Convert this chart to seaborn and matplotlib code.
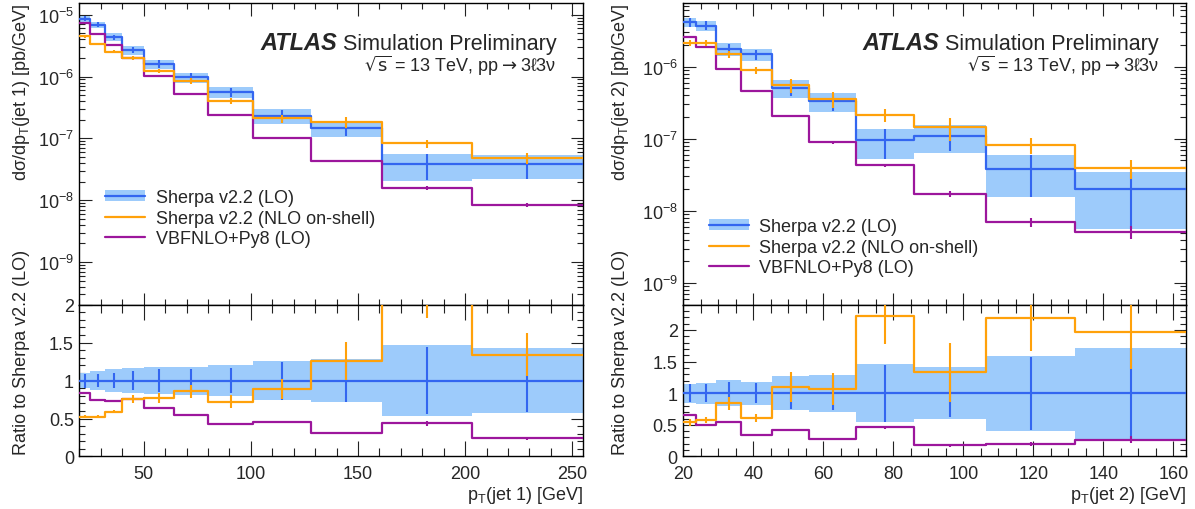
import numpy as np
import pandas as pd
import matplotlib
matplotlib.use("Agg")
import matplotlib.pyplot as plt
import seaborn as sns
from matplotlib.ticker import MultipleLocator, LogLocator, NullFormatter, FuncFormatter
from matplotlib.patches import Patch
from matplotlib.lines import Line2D

# ---------------- data: leading jet pT ----------------
edges_j1 = [20, 25, 32, 40, 50, 64, 80, 101, 128, 161, 203, 255]
lo_j1 = [8.61e-6, 6.89e-6, 4.35e-6, 2.70e-6, 1.60e-6, 9.75e-7, 5.64e-7, 2.33e-7, 1.49e-7, 3.84e-8, 3.80e-8]
lo_band_j1 = [0.10, 0.127, 0.147, 0.163, 0.178, 0.185, 0.207, 0.26, 0.285, 0.47, 0.43]
lo_err_j1 = [0.092, 0.088, 0.10, 0.12, 0.147, 0.158, 0.17, 0.25, 0.28, 0.44, 0.42]
nlo_j1 = [4.46e-6, 3.34e-6, 2.54e-6, 1.98e-6, 1.24e-6, 8.51e-7, 4.03e-7, 2.11e-7, 1.82e-7, 8.30e-8, 4.85e-8]
nlo_err_j1 = [0.04, 0.04, 0.04, 0.07, 0.085, 0.10, 0.12, 0.15, 0.20, 0.15, 0.21]
nlo_ratio_j1 = [0.525, 0.525, 0.59, 0.753, 0.766, 0.862, 0.722, 0.888, 1.256, 2.14, 1.343]
vbf_j1 = [7.33e-6, 4.85e-6, 3.18e-6, 1.98e-6, 1.03e-6, 5.24e-7, 2.39e-7, 1.03e-7, 4.29e-8, 1.60e-8, 8.30e-9]
vbf_err_j1 = [0.01, 0.01, 0.015, 0.015, 0.02, 0.02, 0.02, 0.03, 0.04, 0.08, 0.08]
vbf_ratio_j1 = [0.84, 0.744, 0.735, 0.753, 0.643, 0.543, 0.429, 0.46, 0.306, 0.438, 0.24]

# ---------------- data: subleading jet pT ----------------
edges_j2 = [20, 23.7, 29.4, 36.5, 45.3, 56, 69.3, 86, 106.5, 132, 163.6]
lo_j2 = [4.13e-6, 3.71e-6, 1.76e-6, 1.48e-6, 5.11e-7, 3.33e-7, 9.48e-8, 1.09e-7, 3.75e-8, 2.00e-8]
lo_band_j2 = [0.153, 0.166, 0.205, 0.185, 0.27, 0.295, 0.455, 0.41, 0.59, 0.72]
lo_err_j2 = [0.14, 0.145, 0.17, 0.158, 0.245, 0.27, 0.45, 0.38, 0.58, 0.72]
nlo_j2 = [2.15e-6, 2.15e-6, 1.48e-6, 8.99e-7, 5.56e-7, 3.56e-7, 2.13e-7, 1.45e-7, 8.17e-8, 3.95e-8]
nlo_err_j2 = [0.10, 0.09, 0.12, 0.11, 0.22, 0.24, 0.20, 0.35, 0.24, 0.30]
nlo_ratio_j2 = [0.542, 0.579, 0.842, 0.61, 1.095, 1.068, 2.226, 1.332, 2.19, 1.974]
vbf_j2 = [2.55e-6, 1.86e-6, 9.29e-7, 4.65e-7, 2.08e-7, 8.89e-8, 4.31e-8, 1.74e-8, 7.03e-9, 5.11e-9]
vbf_err_j2 = [0.02, 0.02, 0.02, 0.03, 0.03, 0.04, 0.05, 0.10, 0.15, 0.20]
vbf_ratio_j2 = [0.658, 0.505, 0.542, 0.332, 0.426, 0.279, 0.463, 0.174, 0.20, 0.268]

labels = ["Sherpa v2.2 (LO)", "Sherpa v2.2 (NLO on-shell)", "VBFNLO+Py8 (LO)"]
xlabels = ["p$_\\mathrm{T}$(jet 1) [GeV]", "p$_\\mathrm{T}$(jet 2) [GeV]"]
ylabels = ["d\u03c3/dp$_\\mathrm{T}$(jet 1) [pb/GeV]", "d\u03c3/dp$_\\mathrm{T}$(jet 2) [pb/GeV]"]
ratio_label = "Ratio to Sherpa v2.2 (LO)"

C_LO = "#3366f0"
C_BAND = "#9dcbfb"
C_NLO = "#ffa10a"
C_VBF = "#9c169c"

sns.set_style("ticks")
plt.rcParams["font.family"] = ["Liberation Sans", "DejaVu Sans"]
plt.rcParams["mathtext.fontset"] = "custom"
plt.rcParams["mathtext.rm"] = "Liberation Sans"
plt.rcParams["mathtext.it"] = "Liberation Sans:italic"
plt.rcParams["mathtext.bf"] = "Liberation Sans:bold"
plt.rcParams["axes.unicode_minus"] = True

fig = plt.figure(figsize=(11.95, 5.1), dpi=100)


def step(ax, edges, vals, color, lw=1.6, z=3):
    df = pd.DataFrame({"x": list(edges), "y": list(vals) + [vals[-1]]})
    sns.lineplot(data=df, x="x", y="y", ax=ax, color=color, lw=lw,
                 drawstyle="steps-post", estimator=None, sort=False,
                 errorbar=None, zorder=z)


def band(ax, edges, lo, hi):
    lo = list(lo) + [lo[-1]]
    hi = list(hi) + [hi[-1]]
    ax.fill_between(edges, lo, hi, step="post", color=C_BAND, lw=0, zorder=1)


def errs(ax, centers, vals, yerr, color, z=3):
    ax.errorbar(centers, vals, yerr=yerr, fmt="none", ecolor=color,
                elinewidth=1.5, capsize=0, zorder=z)


def style_axes(ax, bottom=False):
    for s in ax.spines.values():
        s.set_linewidth(1.0)
        s.set_color("black")
    ax.tick_params(which="both", direction="in", top=True, right=True,
                   color="#222222", width=0.8, labelsize=13)
    ax.tick_params(axis="y", which="major", length=9, pad=4)
    ax.tick_params(axis="y", which="minor", length=4.5)
    if bottom:
        ax.tick_params(axis="x", which="major", length=11, pad=6.5)
        ax.tick_params(axis="x", which="minor", length=5.5)
    else:
        ax.tick_params(axis="x", which="major", length=9, labelbottom=False)
        ax.tick_params(axis="x", which="minor", length=4.5)


panels = [
    dict(edges=edges_j1, lo=lo_j1, band=lo_band_j1, loerr=lo_err_j1,
         nlo=nlo_j1, nloerr=nlo_err_j1, nlor=nlo_ratio_j1,
         vbf=vbf_j1, vbferr=vbf_err_j1, vbfr=vbf_ratio_j1,
         x0=0.0665, w=0.4213, ylim=(10 ** -9.69, 10 ** -4.81), rlim=(0, 2.0),
         xmaj=50, xmin=10, xl=0, yl_x=-0.094, leg_y=0.287, txt_r=0.9476),
    dict(edges=edges_j2, lo=lo_j2, band=lo_band_j2, loerr=lo_err_j2,
         nlo=nlo_j2, nloerr=nlo_err_j2, nlor=nlo_ratio_j2,
         vbf=vbf_j2, vbferr=vbf_err_j2, vbfr=vbf_ratio_j2,
         x0=0.5718, w=0.4207, ylim=(10 ** -9.30, 10 ** -5.118), rlim=(0, 2.4),
         xmaj=20, xmin=5, xl=1, yl_x=-0.104, leg_y=0.191, txt_r=0.946),
]

for p in panels:
    e = np.array(p["edges"], dtype=float)
    c = 0.5 * (e[:-1] + e[1:])
    lo = np.array(p["lo"]); bd = np.array(p["band"])
    axt = fig.add_axes([p["x0"], 0.4006, p["w"], 0.5916])
    axr = fig.add_axes([p["x0"], 0.103, p["w"], 0.2976], sharex=axt)

    # ---- top panel ----
    axt.set_yscale("log")
    band(axt, e, lo * (1 - bd), lo * (1 + bd))
    step(axt, e, lo, C_LO, z=3)
    errs(axt, c, lo, np.array(p["loerr"]) * lo, C_LO, z=3)
    vbf = np.array(p["vbf"])
    step(axt, e, vbf, C_VBF, z=4)
    errs(axt, c, vbf, np.array(p["vbferr"]) * vbf, C_VBF, z=4)
    nlo = np.array(p["nlo"])
    step(axt, e, nlo, C_NLO, z=5)
    errs(axt, c, nlo, np.array(p["nloerr"]) * nlo, C_NLO, z=5)
    axt.set_xlim(e[0], e[-1])
    axt.set_ylim(*p["ylim"])
    axt.yaxis.set_major_locator(LogLocator(base=10, numticks=20))
    axt.yaxis.set_minor_locator(LogLocator(base=10, subs=np.arange(2, 10), numticks=100))
    axt.yaxis.set_minor_formatter(NullFormatter())
    axt.xaxis.set_major_locator(MultipleLocator(p["xmaj"]))
    axt.xaxis.set_minor_locator(MultipleLocator(p["xmin"]))
    style_axes(axt, bottom=False)
    axt.set_xlabel("")
    axt.set_ylabel(ylabels[p["xl"]], fontsize=13, loc="top")
    axt.yaxis.set_label_coords(p["yl_x"], 1.0)

    # legend
    hb = (Patch(facecolor=C_BAND, edgecolor="none"), Line2D([], [], color=C_LO, lw=1.6))
    hn = Line2D([], [], color=C_NLO, lw=1.6)
    hv = Line2D([], [], color=C_VBF, lw=1.6)
    axt.legend([hb, hn, hv], labels, loc="center left",
               bbox_to_anchor=(0.051, p["leg_y"]), frameon=False, fontsize=13,
               handlelength=2.2, handletextpad=0.6, labelspacing=0.2,
               borderpad=0, borderaxespad=0, handleheight=0.6)

    # ATLAS label
    t = axt.text(p["txt_r"], 0.8475, "Simulation Preliminary", transform=axt.transAxes,
                 ha="right", va="baseline", fontsize=15.5)
    fig.canvas.draw()
    bb = t.get_window_extent()
    xa, _ = axt.transAxes.inverted().transform((bb.x0 - 6, bb.y0))
    axt.text(xa, 0.8475, "ATLAS", transform=axt.transAxes, ha="right", va="baseline",
             fontsize=17, fontweight="bold", fontstyle="italic")
    axt.text(p["txt_r"], 0.776,
             "$\\sqrt{\\mathrm{s}}$ = 13 TeV, pp$\\rightarrow$3\u21133\u03bd",
             transform=axt.transAxes, ha="right", va="baseline", fontsize=13,
             math_fontfamily="dejavusans")

    # ---- ratio panel ----
    one = np.ones_like(lo)
    band(axr, e, one - bd, one + bd)
    step(axr, e, one, C_LO, z=3)
    errs(axr, c, one, np.array(p["loerr"]), C_LO, z=3)
    vr = np.array(p["vbfr"])
    step(axr, e, vr, C_VBF, z=4)
    errs(axr, c, vr, vr * np.array(p["vbferr"]), C_VBF, z=4)
    nr = np.array(p["nlor"])
    step(axr, e, nr, C_NLO, z=5)
    errs(axr, c, nr, nr * np.array(p["nloerr"]), C_NLO, z=5)
    axr.set_ylim(*p["rlim"])
    axr.set_xlim(e[0], e[-1])
    axr.yaxis.set_major_locator(MultipleLocator(0.5))
    axr.yaxis.set_minor_locator(MultipleLocator(0.1))
    axr.yaxis.set_major_formatter(FuncFormatter(lambda v, pos: "%g" % v))
    axr.xaxis.set_major_locator(MultipleLocator(p["xmaj"]))
    axr.xaxis.set_minor_locator(MultipleLocator(p["xmin"]))
    style_axes(axr, bottom=True)
    axr.set_xlabel(xlabels[p["xl"]], fontsize=13, loc="right", labelpad=1)
    axr.set_ylabel(ratio_label, fontsize=13)
    axr.yaxis.set_label_coords(p["yl_x"] - 0.004, 0.69)

fig.savefig("out.png", dpi=100)
